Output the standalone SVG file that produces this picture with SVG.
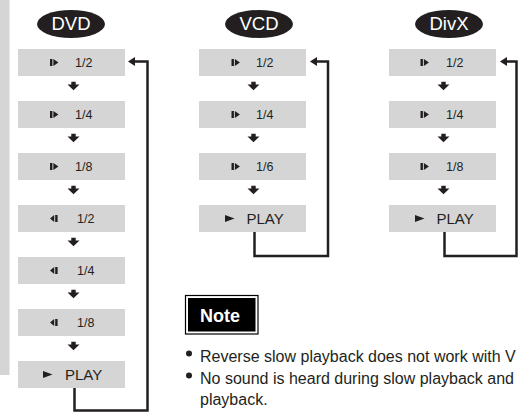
<svg xmlns="http://www.w3.org/2000/svg" width="522" height="412" viewBox="0 0 522 412">
<defs>
<style>
.box{fill:#d5d5d5}
.lbl{font-family:"Liberation Sans",Arial,sans-serif;fill:#231f20}
.sp{font-size:12.5px}
.play{font-size:15px}
.hdr{fill:#231f20}
.hdrt{font-family:"Liberation Sans",Arial,sans-serif;font-size:18.5px;fill:#fff;text-anchor:middle}
.ic{fill:#231f20}
.conn{fill:none;stroke:#231f20;stroke-width:2.5}
.ah{fill:#231f20}
.note{font-family:"Liberation Sans",Arial,sans-serif;font-size:16px;fill:#231f20}
</style>
<g id="fwd"><rect x="0" y="-3.5" width="2.4" height="7"/><polygon points="3.4,-3.5 8.4,0 3.4,3.5"/></g>
<g id="rev"><polygon points="0,0 4.2,-3.5 4.2,3.5"/><rect x="5.2" y="-3.5" width="2.4" height="7"/></g>
<g id="ply"><polygon points="0,-3.6 9.5,0 0,3.6"/></g>
<path id="dn" d="M-2.2,-4.2 L2.2,-4.2 L2.2,-1.5 L6,-1.5 L0,4.2 L-6,-1.5 L-2.2,-1.5 Z"/>
<polygon id="lh" points="0,0 7,-4.5 7,4.5"/>
</defs>
<rect x="0" y="0" width="9.5" height="375" fill="#d5d5d5"/>

<!-- DVD column -->
<g id="dvd-head"><ellipse class="hdr" cx="71" cy="24" rx="34" ry="14"/><text class="hdrt" x="71" y="29.5">DVD</text></g>
<g id="dvd-1"><rect class="box" x="18" y="49" width="107" height="27"/><use href="#fwd" class="ic" x="50" y="62.5"/><text class="lbl sp" x="75" y="67">1/2</text></g>
<g id="dvd-2"><rect class="box" x="18" y="101" width="107" height="27"/><use href="#fwd" class="ic" x="50" y="114.5"/><text class="lbl sp" x="75" y="119">1/4</text></g>
<g id="dvd-3"><rect class="box" x="18" y="153" width="107" height="27"/><use href="#fwd" class="ic" x="50" y="166.5"/><text class="lbl sp" x="75" y="171">1/8</text></g>
<g id="dvd-4"><rect class="box" x="18" y="205" width="107" height="27"/><use href="#rev" class="ic" x="50" y="218.5"/><text class="lbl sp" x="77" y="223">1/2</text></g>
<g id="dvd-5"><rect class="box" x="18" y="257" width="107" height="27"/><use href="#rev" class="ic" x="50" y="270.5"/><text class="lbl sp" x="77" y="275">1/4</text></g>
<g id="dvd-6"><rect class="box" x="18" y="309" width="107" height="27"/><use href="#rev" class="ic" x="50" y="322.5"/><text class="lbl sp" x="77" y="327">1/8</text></g>
<g id="dvd-7"><rect class="box" x="18" y="361" width="107" height="27"/><use href="#ply" class="ic" x="43" y="374.5"/><text class="lbl play" x="65" y="379.8">PLAY</text></g>

<!-- VCD column -->
<g id="vcd-head"><ellipse class="hdr" cx="259" cy="24" rx="34" ry="14"/><text class="hdrt" x="259" y="29.5">VCD</text></g>
<g id="vcd-1"><rect class="box" x="199" y="49" width="107" height="27"/><use href="#fwd" class="ic" x="231.5" y="62.5"/><text class="lbl sp" x="256" y="67">1/2</text></g>
<g id="vcd-2"><rect class="box" x="199" y="101" width="107" height="27"/><use href="#fwd" class="ic" x="231.5" y="114.5"/><text class="lbl sp" x="256" y="119">1/4</text></g>
<g id="vcd-3"><rect class="box" x="199" y="153" width="107" height="27"/><use href="#fwd" class="ic" x="231.5" y="166.5"/><text class="lbl sp" x="256" y="171">1/6</text></g>
<g id="vcd-4"><rect class="box" x="199" y="205" width="107" height="27"/><use href="#ply" class="ic" x="225" y="218.5"/><text class="lbl play" x="246.5" y="223.8">PLAY</text></g>

<!-- DivX column -->
<g id="divx-head"><ellipse class="hdr" cx="449" cy="24" rx="34" ry="14"/><text class="hdrt" x="449" y="29.5">DivX</text></g>
<g id="divx-1"><rect class="box" x="389" y="49" width="107" height="27"/><use href="#fwd" class="ic" x="420.5" y="62.5"/><text class="lbl sp" x="446" y="67">1/2</text></g>
<g id="divx-2"><rect class="box" x="389" y="101" width="107" height="27"/><use href="#fwd" class="ic" x="420.5" y="114.5"/><text class="lbl sp" x="446" y="119">1/4</text></g>
<g id="divx-3"><rect class="box" x="389" y="153" width="107" height="27"/><use href="#fwd" class="ic" x="420.5" y="166.5"/><text class="lbl sp" x="446" y="171">1/8</text></g>
<g id="divx-4"><rect class="box" x="389" y="205" width="107" height="27"/><use href="#ply" class="ic" x="415" y="218.5"/><text class="lbl play" x="436.5" y="223.8">PLAY</text></g>

<!-- connectors -->
<g id="connectors">
<g class="ah">
<use href="#dn" x="73.5" y="86"/><use href="#dn" x="73.5" y="138"/><use href="#dn" x="73.5" y="190"/><use href="#dn" x="73.5" y="242"/><use href="#dn" x="73.5" y="294"/><use href="#dn" x="73.5" y="346"/>
<use href="#dn" x="253.5" y="86"/><use href="#dn" x="253.5" y="138"/><use href="#dn" x="253.5" y="190"/>
<use href="#dn" x="443.5" y="86"/><use href="#dn" x="443.5" y="138"/><use href="#dn" x="443.5" y="190"/>
<use href="#lh" x="128" y="61.5"/><use href="#lh" x="310" y="61.5"/><use href="#lh" x="500" y="61.5"/>
</g>
<polyline class="conn" points="74.5,388 74.5,410.5 147.5,410.5 147.5,61.5 134,61.5"/>
<polyline class="conn" points="254.5,232 254.5,256 328,256 328,61.5 316,61.5"/>
<polyline class="conn" points="444.5,232 444.5,256 516.5,256 516.5,61.5 506,61.5"/>
</g>

<!-- note -->
<g id="note">
<rect x="185.5" y="295.5" width="72.5" height="38.5" fill="#fff" stroke="#000" stroke-width="1.2"/>
<rect x="188" y="298" width="67.5" height="33.5" fill="#000"/>
<text x="200" y="321.5" font-family="'Liberation Sans',Arial,sans-serif" font-size="18px" font-weight="bold" fill="#fff">Note</text>
<circle cx="189" cy="353.5" r="3" fill="#231f20"/>
<circle cx="189" cy="375.5" r="3" fill="#231f20"/>
<text class="note" x="200" y="361.5">Reverse slow playback does not work with V</text>
<text class="note" x="200" y="383.5">No sound is heard during slow playback and</text>
<text class="note" x="200" y="405">playback.</text>
</g>
</svg>
